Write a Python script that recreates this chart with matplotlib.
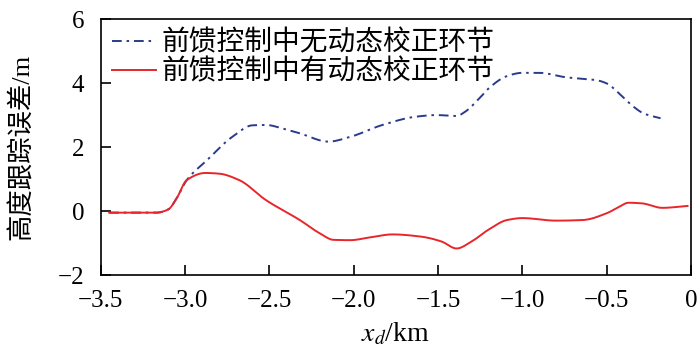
import numpy as np
import matplotlib.pyplot as plt

plt.rcParams['font.family'] = ['Liberation Serif', 'Noto Sans CJK SC']
plt.rcParams['mathtext.fontset'] = 'stix'

# 前馈控制中无动态校正环节 (蓝色点划线)
x_no = [-3.45, -3.17, -3.10, -3.05, -2.99, -2.87, -2.72, -2.60, -2.52, -2.42,
        -2.32, -2.15, -2.02, -1.83, -1.63, -1.51, -1.39, -1.34, -1.25, -1.19,
        -1.09, -1.00, -0.90, -0.74, -0.56, -0.50, -0.42, -0.34, -0.28, -0.18]
y_no = [-0.05, -0.05, 0.05, 0.40, 0.97, 1.59, 2.32, 2.68, 2.69, 2.58,
        2.43, 2.17, 2.32, 2.69, 2.95, 3.00, 2.97, 3.10, 3.55, 3.88,
        4.22, 4.32, 4.32, 4.18, 4.09, 3.99, 3.65, 3.26, 3.05, 2.90]

# 前馈控制中有动态校正环节 (红色实线)
x_yes = [-3.45, -3.17, -3.10, -3.05, -2.99, -2.88, -2.80, -2.68, -2.52, -2.32,
         -2.20, -2.12, -2.02, -1.90, -1.77, -1.60, -1.48, -1.39, -1.30, -1.20,
         -1.09, -1.00, -0.80, -0.64, -0.50, -0.43, -0.37, -0.29, -0.17, -0.02]
y_yes = [-0.05, -0.05, 0.05, 0.40, 0.97, 1.19, 1.17, 0.97, 0.34, -0.28,
         -0.70, -0.90, -0.91, -0.82, -0.73, -0.80, -0.95, -1.17, -0.95, -0.58,
         -0.28, -0.22, -0.30, -0.28, -0.07, 0.12, 0.26, 0.24, 0.10, 0.16]

xticks = [-3.5, -3.0, -2.5, -2.0, -1.5, -1.0, -0.5, 0]
xticklabels = ['\u22123.5', '\u22123.0', '\u22122.5', '\u22122.0', '\u22121.5', '\u22121.0', '\u22120.5', '0']
yticks = [-2, 0, 2, 4, 6]
yticklabels = ['\u22122', '0', '2', '4', '6']


def smooth(xs, ys, n=400):
    # 单调三次插值, 只用于让折线平滑
    xs = np.asarray(xs, float)
    ys = np.asarray(ys, float)
    h = np.diff(xs)
    d = np.diff(ys) / h
    m = np.zeros_like(ys)
    m[0], m[-1] = d[0], d[-1]
    for i in range(1, len(xs) - 1):
        if d[i - 1] * d[i] > 0:
            w1 = 2 * h[i] + h[i - 1]
            w2 = h[i] + 2 * h[i - 1]
            m[i] = (w1 + w2) / (w1 / d[i - 1] + w2 / d[i])
    xx = np.linspace(xs[0], xs[-1], n)
    k = np.clip(np.searchsorted(xs, xx) - 1, 0, len(xs) - 2)
    t = (xx - xs[k]) / h[k]
    h00 = 2 * t**3 - 3 * t**2 + 1
    h10 = t**3 - 2 * t**2 + t
    h01 = -2 * t**3 + 3 * t**2
    h11 = t**3 - t**2
    yy = h00 * ys[k] + h10 * h[k] * m[k] + h01 * ys[k + 1] + h11 * h[k] * m[k + 1]
    return xx, yy


fig = plt.figure(figsize=(7, 3.6), dpi=100)
ax = fig.add_axes([0.144, 0.236, 0.843, 0.711])

xs, ys = smooth(x_no, y_no)
ax.plot(xs, ys, color='#2b3a8c', lw=1.4, linestyle=(0, (5, 2.5, 1.3, 2.5)),
        label='前馈控制中无动态校正环节')
xs, ys = smooth(x_yes, y_yes)
ax.plot(xs, ys, color='#e8262a', lw=1.4, label='前馈控制中有动态校正环节')

ax.set_xlim(-3.5, 0)
ax.set_ylim(-2, 6)
ax.set_xticks(xticks)
ax.set_xticklabels(xticklabels)
ax.set_yticks(yticks)
ax.set_yticklabels(yticklabels)
ax.tick_params(direction='in', length=7, width=1.2, labelsize=18)
ax.tick_params(axis='x', pad=11)
ax.tick_params(axis='y', pad=12)
for s in ax.spines.values():
    s.set_linewidth(1.2)

ax.set_xlabel('$x_d$/km', fontsize=20, labelpad=6)
ax.set_ylabel('高度跟踪误差/m', fontsize=19, labelpad=17)

ax.legend(loc='upper left', frameon=False, fontsize=20, handlelength=1.6,
          handletextpad=0.2, labelspacing=0.1, borderaxespad=0.1, borderpad=0.3)

fig.savefig('out.png', dpi=100)
